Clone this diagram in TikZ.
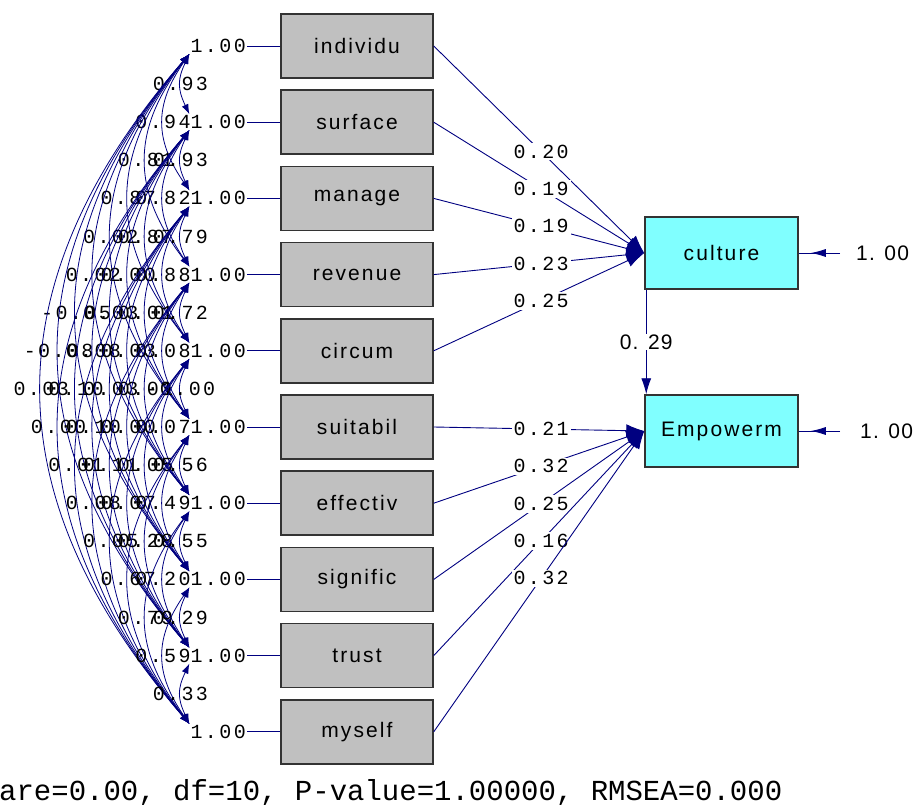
\documentclass[tikz,border=0pt]{standalone}
\usepackage{fontspec}
\usepackage{xcolor}
\usetikzlibrary{arrows.meta}
\newfontfamily\boxfont[LetterSpace=10]{Liberation Sans}
\newfontfamily\numfont[LetterSpace=12]{Liberation Mono}
\newfontfamily\errfont[LetterSpace=6]{Liberation Sans}
\newfontfamily\fitfont{Liberation Mono}
\definecolor{lisrel}{RGB}{0,0,128}
\definecolor{obsgray}{RGB}{192,192,192}
\definecolor{latcyan}{RGB}{128,255,255}

\begin{document}
\begin{tikzpicture}[x=1pt,y=-1pt,>=Latex,
    obs/.style={draw=black!80,line width=1.5pt,fill=obsgray,minimum width=152pt,minimum height=64pt,inner sep=0pt,font=\boxfont\fontsize{21}{24}\selectfont},
    lat/.style={obs,fill=latcyan,minimum width=153pt,minimum height=72pt},
    link/.style={draw=lisrel,line width=0.9pt},
    regpath/.style={link,-{Latex[length=18pt,width=13pt]}},
    cov/.style={draw=lisrel,line width=0.8pt,{Latex[length=10pt,width=7pt]}-{Latex[length=10pt,width=7pt]}},
    numlabel/.style={inner sep=1pt,font=\numfont\fontsize{20}{22}\selectfont},
    pathlabel/.style={numlabel,fill=white,inner sep=2pt},
    errlabel/.style={inner sep=1pt,font=\errfont\fontsize{21}{24}\selectfont}]

        \useasboundingbox (0,0) rectangle (919,805);

        % observed variables with their variances
        \foreach \i/\name in {1/individu,2/surface,3/manage,4/revenue,5/circum,
                              6/suitabil,7/effectiv,8/signific,9/trust,10/myself} {
                \pgfmathsetmacro\y{46+76.2*(\i-1)}
                \node[obs] (b\i) at (357,\y) {\name};
                \node[numlabel,anchor=east] (v\i) at (247,\y) {1.00};
                \draw[link] (b\i.west) -- (v\i.east);
        }

        % latent variables
        \node[lat] (culture) at (721.5,253) {culture};
        \node[lat] (empower) at (721.5,431) {Empowerm};

        % paths to culture
        \foreach \i/\w in {1/0.20,2/0.19,3/0.19,4/0.23,5/0.25}
                \draw[regpath] (b\i.east) -- node[pathlabel,pos=0.51] {\w} (culture.west);
        % paths to Empowerm
        \foreach \i/\w in {6/0.21,7/0.32,8/0.25,9/0.16,10/0.32}
                \draw[regpath] (b\i.east) -- node[pathlabel,pos=0.51] {\w} (empower.west);

        \draw[link,-{Latex[length=16pt,width=10pt]}] ([xshift=2pt]culture.south west)
                -- node[errlabel,fill=white] {0. 29} ([xshift=2pt]empower.north west);

        % error variances
        \node[errlabel,anchor=west,inner xsep=16pt] (ecu) at (840,253) {1. 00};
        \node[errlabel,anchor=west,inner xsep=20pt] (eem) at (840,431) {1. 00};
        \foreach \e/\v in {ecu/culture,eem/empower} {
                \draw[link] (\e.west) -- (\v.east);
                \draw[link,-{Latex[length=15pt,width=8pt]}] ([xshift=29pt]\v.east) -- ([xshift=12pt]\v.east);
        }

        % covariances between the observed variables
        \foreach \i/\j/\r in {
            1/2/0.93, 1/3/0.94, 1/4/0.81, 1/5/0.87, 1/6/0.02, 1/7/0.02, 1/8/-0.05, 1/9/-0.08, 1/10/0.03,
            2/3/0.93, 2/4/0.82, 2/5/0.87, 2/6/0.00, 2/7/0.03, 2/8/0.08, 2/9/0.10, 2/10/0.00,
            3/4/0.79, 3/5/0.88, 3/6/0.01, 3/7/0.03, 3/8/0.03, 3/9/0.10, 3/10/0.01,
            4/5/0.72, 4/6/0.08, 4/7/0.01, 4/8/0.00, 4/9/0.11, 4/10/0.08,
            5/6/-0.00, 5/7/0.07, 5/8/0.05, 5/9/0.07, 5/10/0.05,
            6/7/0.56, 6/8/0.49, 6/9/0.28, 6/10/0.67,
            7/8/0.55, 7/9/0.20, 7/10/0.79,
            8/9/0.29, 8/10/0.59,
            9/10/0.33} {
                \pgfmathsetmacro\h{(9+17.4*(\j-\i-1))/0.75}
                \pgfmathsetmacro\a{76.2*(\j-\i)/3}
                \draw[cov] (v\i.south west) .. controls +(-\h,\a) and +(-\h,-\a) .. (v\j.north west)
                        node[numlabel,midway] {\r};
        }

        % fit statistics
        \node[anchor=west,inner sep=0pt,font=\fitfont\fontsize{29}{32}\selectfont] (fit) at (-1,793)
                {are=0.00, df=10, P-value=1.00000, RMSEA=0.000};
\end{tikzpicture}
\end{document}
